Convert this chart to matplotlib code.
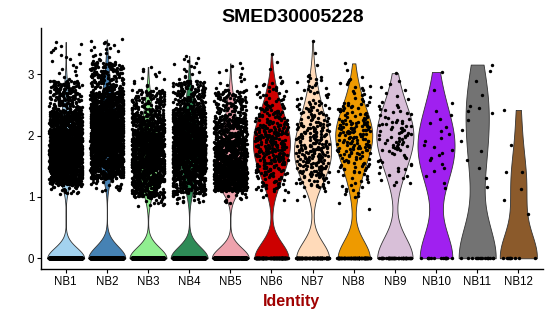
import numpy as np
import matplotlib
matplotlib.use("Agg")
import matplotlib.pyplot as plt

plt.rcParams['font.family'] = ['Liberation Sans', 'DejaVu Sans']

title = "SMED30005228"
x_label = "Identity"
groups = ["NB1", "NB2", "NB3", "NB4", "NB5", "NB6", "NB7", "NB8", "NB9", "NB10", "NB11", "NB12"]
colors = ["#A3D2EF", "#4682B4", "#90EE90", "#2E8B57", "#EEA2AD", "#CD0000",
          "#FFDAB9", "#EE9A00", "#D8BFD8", "#A020F0", "#737373", "#8B5A2B"]

# cells with zero expression / with positive expression per identity
n_zero = [1300, 1200, 800, 950, 550, 150, 120, 95, 55, 15, 16, 10]
n_pos = [2000, 1900, 1300, 1500, 1200, 340, 280, 200, 90, 25, 16, 7]

# quantiles of the positive expression values (probabilities in probs)
probs = [0.0, 0.01, 0.10, 0.25, 0.50, 0.75, 0.90, 0.99, 1.0]
q_NB1 = [1.05, 1.20, 1.35, 1.55, 1.80, 2.10, 2.40, 2.90, 3.53]
q_NB2 = [1.10, 1.30, 1.50, 1.75, 2.05, 2.40, 2.70, 3.20, 3.57]
q_NB3 = [0.85, 1.00, 1.20, 1.45, 1.75, 2.05, 2.35, 2.75, 3.12]
q_NB4 = [0.90, 1.05, 1.30, 1.55, 1.85, 2.15, 2.45, 2.90, 3.30]
q_NB5 = [0.90, 1.10, 1.20, 1.35, 1.60, 1.95, 2.30, 2.75, 3.18]
q_NB6 = [0.95, 1.10, 1.35, 1.60, 1.90, 2.20, 2.50, 2.90, 3.34]
q_NB7 = [0.95, 1.15, 1.35, 1.55, 1.85, 2.20, 2.55, 3.00, 3.55]
q_NB8 = [0.80, 1.00, 1.40, 1.70, 2.00, 2.25, 2.55, 2.95, 3.18]
q_NB9 = [1.20, 1.22, 1.45, 1.75, 2.00, 2.25, 2.50, 2.90, 3.02]
q_NB10 = [1.14, 1.15, 1.38, 1.60, 1.85, 2.20, 2.45, 2.90, 3.04]
q_NB11 = [1.16, 1.17, 1.40, 1.70, 2.35, 2.50, 3.00, 3.15, 3.16]
q_NB12 = [0.72, 0.75, 0.90, 1.00, 1.40, 1.40, 2.20, 2.40, 2.42]
quantiles = [q_NB1, q_NB2, q_NB3, q_NB4, q_NB5, q_NB6,
             q_NB7, q_NB8, q_NB9, q_NB10, q_NB11, q_NB12]


def values_for(i):
    n = n_pos[i]
    p = np.arange(n) / (n - 1)
    pos = np.interp(p, probs, quantiles[i])
    return np.concatenate([np.zeros(n_zero[i]), pos])


def bw_nrd0(x):
    sd = np.std(x, ddof=1)
    iqr = np.subtract(*np.percentile(x, [75, 25]))
    lo = min(sd, iqr / 1.34)
    if lo <= 0:
        lo = sd if sd > 0 else 1.0
    return 0.9 * lo * len(x) ** (-0.2)


def jitter(n, seed):
    k = np.arange(n) + 1.0
    v = np.sin(k * 12.9898 + seed * 78.233) * 43758.5453
    return (v - np.floor(v)) - 0.5


fig = plt.figure(figsize=(5.5, 3.16), dpi=100)
ax = fig.add_axes([41 / 550, 1 - 269 / 316, (543 - 41) / 550, (269 - 28) / 316])

for i, g in enumerate(groups):
    x = values_for(i)
    h = bw_nrd0(x)
    ys = np.linspace(x.min(), x.max(), 512)
    dens = np.exp(-0.5 * ((ys[:, None] - x[None, :]) / h) ** 2).sum(axis=1)
    w = 0.45 * dens / dens.max()
    ax.fill_betweenx(ys, i - w, i + w, facecolor=colors[i], edgecolor="#333333",
                     linewidth=0.6, zorder=2)

for i, g in enumerate(groups):
    x = values_for(i)
    xo = i + 0.8 * jitter(len(x), i + 1)
    ax.scatter(xo, x, s=6, c="black", linewidths=0, zorder=3)

ax.set_xlim(-0.6, 11.6)
ax.set_ylim(-0.175, 3.757)
ax.set_xticks(range(len(groups)))
ax.set_xticklabels(groups)
ax.set_yticks([0, 1, 2, 3])
ax.set_yticklabels(["0", "1", "2", "3"])
for s in ["top", "right"]:
    ax.spines[s].set_visible(False)
for s in ["left", "bottom"]:
    ax.spines[s].set_linewidth(1.0)
ax.tick_params(axis="both", length=3, width=0.8, labelsize=8.3, pad=2, colors="black")

fig.text(0.532, 1 - 22 / 316, title, ha="center", va="baseline",
         fontsize=14, fontweight="bold")
fig.text(0.53, 1 - 306 / 316, x_label, ha="center", va="baseline",
         fontsize=11.5, fontweight="bold", color="#A00000")

fig.savefig("out.png", dpi=100)
